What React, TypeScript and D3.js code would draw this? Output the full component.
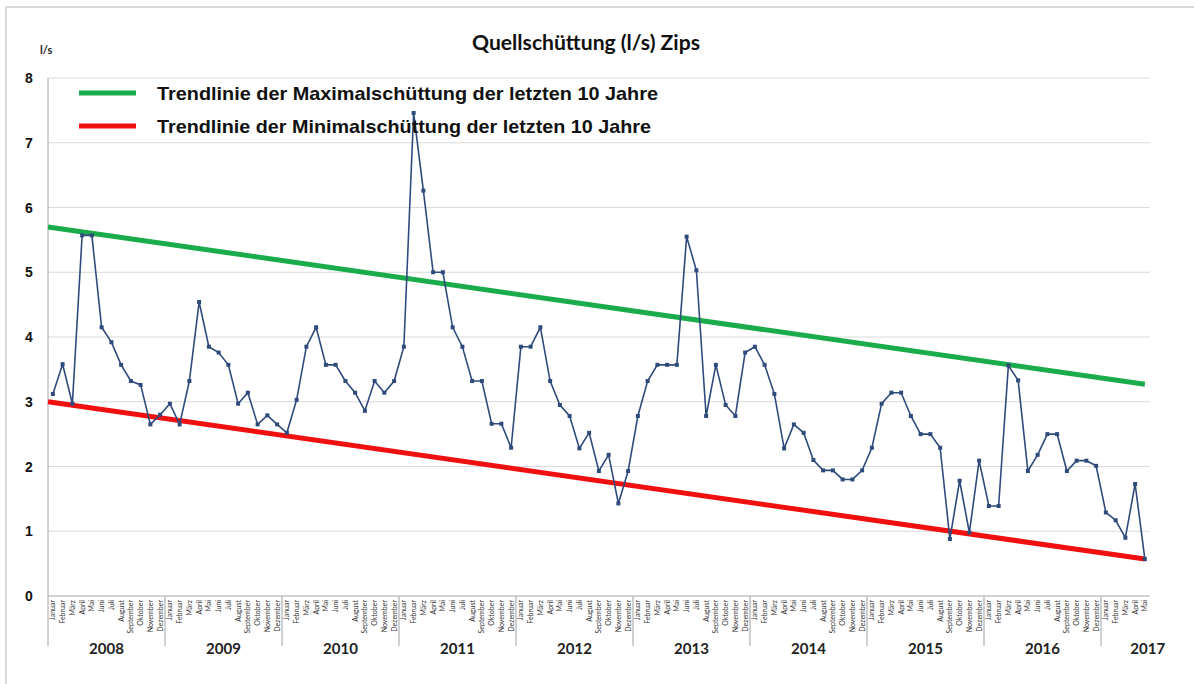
import React from 'react'
import * as d3 from 'd3'

// monthly discharge values (l/s)
const years = ['2008', '2009', '2010', '2011', '2012', '2013', '2014', '2015', '2016', '2017']
const months = ['Januar', 'Februar', 'März', 'April', 'Mai', 'Juni', 'Juli', 'August', 'September', 'Oktober', 'November', 'Dezember']
const v2008 = [3.12, 3.58, 2.97, 5.57, 5.57, 4.15, 3.92, 3.57, 3.32, 3.26, 2.65, 2.8]
const v2009 = [2.97, 2.65, 3.32, 4.54, 3.85, 3.76, 3.57, 2.97, 3.14, 2.65, 2.79, 2.65]
const v2010 = [2.52, 3.03, 3.85, 4.15, 3.57, 3.57, 3.32, 3.14, 2.86, 3.32, 3.14, 3.32]
const v2011 = [3.85, 7.46, 6.26, 5.0, 5.0, 4.15, 3.85, 3.32, 3.32, 2.66, 2.66, 2.29]
const v2012 = [3.85, 3.85, 4.15, 3.32, 2.95, 2.78, 2.28, 2.52, 1.93, 2.18, 1.43, 1.93]
const v2013 = [2.78, 3.32, 3.57, 3.57, 3.57, 5.55, 5.03, 2.78, 3.57, 2.95, 2.78, 3.76]
const v2014 = [3.85, 3.57, 3.12, 2.28, 2.65, 2.52, 2.1, 1.94, 1.94, 1.8, 1.8, 1.94]
const v2015 = [2.29, 2.97, 3.14, 3.14, 2.78, 2.5, 2.5, 2.29, 0.88, 1.78, 0.98, 2.09]
const v2016 = [1.39, 1.39, 3.56, 3.33, 1.93, 2.18, 2.5, 2.5, 1.93, 2.09, 2.09, 2.01]
const v2017 = [1.29, 1.17, 0.9, 1.73, 0.57]
const yearValues = [v2008, v2009, v2010, v2011, v2012, v2013, v2014, v2015, v2016, v2017]

// trend lines: value at start and end of the series
const maxTrend = [5.7, 3.27]
const minTrend = [3.0, 0.57]
const yTicks = [0, 1, 2, 3, 4, 5, 6, 7, 8]

const legendItems = [
  { label: 'Trendlinie der Maximalschüttung der letzten 10 Jahre', color: '#1aac4a' },
  { label: 'Trendlinie der Minimalschüttung der letzten 10 Jahre', color: '#f01010' },
]

const W = 1194, H = 684
const left = 48, top = 78, bottom = 596
const bandW = 9.75

const points = yearValues.flatMap((vals, yi) =>
  vals.map((v, mi) => ({ key: yi * 12 + mi, year: years[yi], month: months[mi], value: v }))
)

export default function App() {
  const x = d3.scaleBand<number>()
    .domain(points.map(d => d.key))
    .range([left, left + points.length * bandW])
  const y = d3.scaleLinear().domain([0, 8]).range([bottom, top])
  const cx = (k: number) => (x(k) as number) + x.bandwidth() / 2
  const right = x.range()[1]

  const line = d3.line<typeof points[0]>().x(d => cx(d.key)).y(d => y(d.value))
  const lastX = cx(points[points.length - 1].key)

  const labelFont = 'Arial, "Liberation Sans", sans-serif'
  const calibri = 'Lato, "Open Sans", sans-serif'

  return (
    <div style={{ position: 'absolute', left: 0, top: 0 }}>
      <svg width={W} height={H} style={{ display: 'block', background: '#fff' }}>
        <rect x={6} y={7} width={W + 20} height={H + 20} fill="none" stroke="#d9d9d9" strokeWidth={2} />

        <text x={586} y={50} textAnchor="middle" fontFamily={calibri} fontWeight="bold" fontSize={20}
          textLength={228} lengthAdjust="spacingAndGlyphs" fill="#111">
          Quellschüttung (l/s) Zips
        </text>
        <text x={40} y={54} fontFamily={calibri} fontWeight="bold" fontSize={11} fill="#222">l/s</text>

        {/* grid */}
        {yTicks.map(t => (
          <g key={t}>
            {t > 0 && <line x1={left} x2={right} y1={y(t)} y2={y(t)} stroke="#d9d9d9" strokeWidth={1} />}
            <text x={29} y={y(t) + 5} textAnchor="middle" fontFamily={labelFont} fontWeight="bold" fontSize={14} fill="#111">{t}</text>
          </g>
        ))}
        <line x1={left} x2={right} y1={bottom} y2={bottom} stroke="#a6a6a6" strokeWidth={1} />
        <line x1={left} x2={left} y1={top} y2={646} stroke="#a6a6a6" strokeWidth={1} />

        {/* category axis: months and years */}
        {years.map((yr, yi) => {
          const list = points.filter(p => p.year === yr)
          const x0 = x(list[0].key) as number
          const x1 = (x(list[list.length - 1].key) as number) + x.bandwidth()
          const full = list.length === 12
          return (
            <g key={yr}>
              {yi > 0 && <line x1={x0} x2={x0} y1={bottom} y2={646} stroke="#bfbfbf" strokeWidth={1.5} />}
              <text x={full ? (x0 + x1) / 2 : x1 - 2} y={654} textAnchor="middle" fontFamily={calibri} fontWeight="bold" fontSize={15} fill="#222">{yr}</text>
            </g>
          )
        })}
        {points.map(p => (
          <text key={'m' + p.key} transform={`translate(${cx(p.key) + 2.5},${bottom + 4}) rotate(-90)`}
            textAnchor="end" fontFamily={calibri} fontSize={7} fill="#333">{p.month}</text>
        ))}

        {/* trend lines */}
        <line x1={left} x2={lastX} y1={y(maxTrend[0])} y2={y(maxTrend[1])} stroke={legendItems[0].color} strokeWidth={5} />
        <line x1={left} x2={lastX} y1={y(minTrend[0])} y2={y(minTrend[1])} stroke={legendItems[1].color} strokeWidth={5} />

        {/* data series */}
        <path d={line(points) ?? ''} fill="none" stroke="#2f4b7c" strokeWidth={1.6} />
        {points.map(p => (
          <rect key={'p' + p.key} x={cx(p.key) - 2} y={y(p.value) - 2} width={4} height={4} fill="#2f4b7c" />
        ))}

        {/* legend */}
        {legendItems.map((it, i) => (
          <g key={it.label} transform={`translate(0,${93 + i * 33})`}>
            <line x1={79} x2={136} y1={0} y2={0} stroke={it.color} strokeWidth={5} />
            <text x={157} y={7} fontFamily={labelFont} fontWeight="bold" fontSize={19}
              textLength={i === 0 ? 501 : 494} lengthAdjust="spacingAndGlyphs" fill="#111">{it.label}</text>
          </g>
        ))}
      </svg>
    </div>
  )
}
